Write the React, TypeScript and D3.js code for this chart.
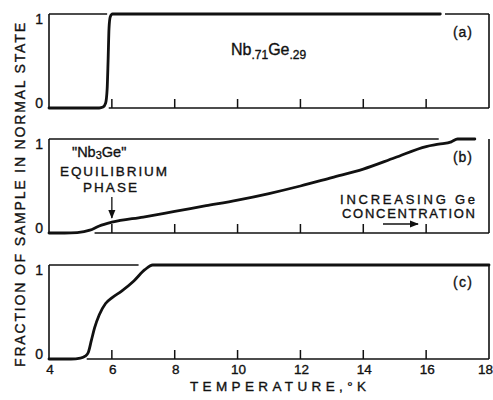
import React from 'react';
import * as d3 from 'd3';

// curve (a): Nb.71Ge.29, sharp transition
const tempA = [4, 5.6, 5.72, 5.8, 5.85, 5.88, 5.91, 5.95, 6.02, 6.12, 16.45];
const fracA = [0, 0, 0.01, 0.05, 0.2, 0.5, 0.85, 0.97, 1, 1, 1];

// curve (b): broad transition
const tempB = [4, 4.5, 4.9, 5.3, 5.6, 6.0, 7, 8, 9, 10, 11, 12, 13, 14, 15, 16, 16.4, 16.8, 17.0, 17.55];
const fracB = [0, 0, 0.005, 0.03, 0.075, 0.115, 0.17, 0.23, 0.29, 0.35, 0.42, 0.5, 0.59, 0.68, 0.8, 0.92, 0.945, 0.97, 1, 1];

// curve (c)
const tempC = [4, 4.7, 5.0, 5.15, 5.25, 5.35, 5.45, 5.6, 5.8, 6.0, 6.3, 6.7, 7.05, 7.3, 18];
const fracC = [0, 0, 0.01, 0.03, 0.07, 0.2, 0.33, 0.47, 0.59, 0.65, 0.72, 0.83, 0.95, 1, 1];

const xTicks = [4, 6, 8, 10, 12, 14, 16, 18];
const innerTicks = [6, 8, 10, 12, 14, 16];
const panelTags = ['(a)', '(b)', '(c)'];

// pieces of the frame top/bottom that show (the curve draws the rest)
const frameTop = [[[4, 5.85], [16.6, 18]], [[4, 16.4]], [[4, 6.85]]];
const frameBottom = [[[5.9, 18]], [[5.45, 18]], [[5.2, 18]]];

const W = 493;
const H = 400;
const font = '"Liberation Sans", Arial, sans-serif';
const ink = '#111';

const x = d3.scaleLinear().domain([4, 18]).range([49, 489]);
const panelTops = [14, 139, 265];
const panelH = 94;

const curves = [
  { t: tempA, f: fracA },
  { t: tempB, f: fracB },
  { t: tempC, f: fracC },
];

// slightly heavier text, like the printed original
const txt = { fontFamily: font, fill: ink, stroke: ink, strokeWidth: 0.35 };

const Panel = ({ i }: { i: number }) => {
  const top = panelTops[i];
  const y = d3.scaleLinear().domain([0, 1]).range([top + panelH, top]);
  const pts = curves[i].t.map((t, k) => [t, curves[i].f[k]] as [number, number]);
  const line = d3
    .line<[number, number]>()
    .x((d) => x(d[0]))
    .y((d) => y(d[1]))
    .curve(d3.curveMonotoneX);
  const [x0, x1] = x.range();
  return (
    <g>
      {/* frame */}
      <line x1={x0} x2={x0} y1={y(1)} y2={y(0)} stroke={ink} strokeWidth={1.6} />
      <line x1={x1} x2={x1} y1={y(1)} y2={y(0)} stroke={ink} strokeWidth={1.6} />
      {frameTop[i].map((s, k) => (
        <line key={'t' + k} x1={x(s[0])} x2={x(s[1])} y1={y(1)} y2={y(1)} stroke={ink} strokeWidth={1.6} />
      ))}
      {frameBottom[i].map((s, k) => (
        <line key={'b' + k} x1={x(s[0])} x2={x(s[1])} y1={y(0)} y2={y(0)} stroke={ink} strokeWidth={1.6} />
      ))}
      {innerTicks.map((t) => (
        <line key={t} x1={x(t)} x2={x(t)} y1={y(0)} y2={y(0) - 9} stroke={ink} strokeWidth={1.5} />
      ))}
      <path d={line(pts) || ''} fill="none" stroke={ink} strokeWidth={2.8} strokeLinejoin="round" strokeLinecap="round" />
      {/* y tick labels */}
      <text x={43} y={y(1) + 10} textAnchor="end" fontSize={14} {...txt}>1</text>
      <text x={43} y={y(0)} textAnchor="end" fontSize={14} {...txt}>0</text>
      <text x={453} y={top + (i === 2 ? 22 : 23)} fontSize={14} {...txt} textLength={19} lengthAdjust="spacing">
        {panelTags[i]}
      </text>
    </g>
  );
};

export default function App() {
  const yB = d3.scaleLinear().domain([0, 1]).range([panelTops[1] + panelH, panelTops[1]]);
  return (
    <div style={{ position: 'absolute', left: 0, top: 0 }}>
      <svg width={W} height={H} style={{ display: 'block', background: '#fff' }}>
        <defs>
          <marker id="ah" viewBox="0 0 10 10" refX="9" refY="5" markerWidth="7" markerHeight="7" orient="auto-start-reverse">
            <path d="M0,1 L10,5 L0,9 z" fill={ink} />
          </marker>
        </defs>
        {[0, 1, 2].map((i) => (
          <Panel key={i} i={i} />
        ))}

        {/* x tick labels */}
        {xTicks.map((t, k) => (
          <text
            key={t}
            x={k === xTicks.length - 1 ? 493 : x(t) + 1}
            y={374}
            textAnchor={k === xTicks.length - 1 ? 'end' : 'middle'}
            fontSize={13.5}
            {...txt}
          >
            {t}
          </text>
        ))}
        <text x={190} y={391} fontSize={13.5} {...txt} textLength={176} lengthAdjust="spacing">
          TEMPERATURE,°K
        </text>

        {/* y axis title */}
        <text
          transform="translate(25,195) rotate(-90)"
          textAnchor="middle"
          fontSize={14}
          {...txt}
          textLength={344}
          lengthAdjust="spacing"
        >
          FRACTION OF SAMPLE IN NORMAL STATE
        </text>

        {/* panel (a) composition */}
        <text x={231} y={55} fontSize={16} {...txt}>
          Nb<tspan fontSize={12} dy={4}>.71</tspan>
          <tspan dy={-4}>Ge</tspan>
          <tspan fontSize={12} dy={4}>.29</tspan>
        </text>

        {/* panel (b) annotations */}
        <text x={72} y={157} fontSize={14.5} {...txt}>
          "Nb<tspan fontSize={11} dy={2}>3</tspan>
          <tspan dy={-2}>Ge"</tspan>
        </text>
        <text x={60} y={176} fontSize={13.5} {...txt} textLength={107} lengthAdjust="spacing">EQUILIBRIUM</text>
        <text x={83} y={192} fontSize={13.5} {...txt} textLength={54} lengthAdjust="spacing">PHASE</text>
        <line x1={x(6)} x2={x(6)} y1={197} y2={yB(0.16)} stroke={ink} strokeWidth={1.3} markerEnd="url(#ah)" />

        <text x={340} y={204} fontSize={13} {...txt} textLength={135} lengthAdjust="spacing">INCREASING Ge</text>
        <text x={342} y={218} fontSize={13} {...txt} textLength={133} lengthAdjust="spacing">CONCENTRATION</text>
        <line x1={383} x2={418} y1={224} y2={224} stroke={ink} strokeWidth={1.3} markerEnd="url(#ah)" />
      </svg>
    </div>
  );
}
